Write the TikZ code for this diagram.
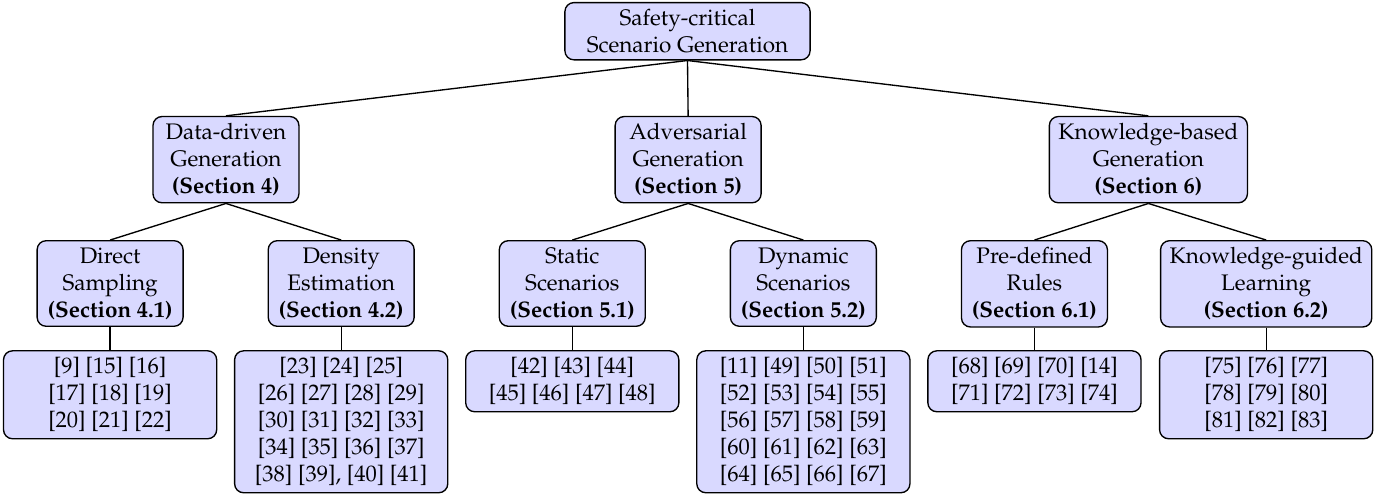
\documentclass[tikz,border=0pt]{standalone}
\usepackage[T1]{fontenc}
\usepackage{mathpazo}
\usepackage{tikz}

\tikzset{
    box/.style={draw, semithick, rounded corners, fill=blue!15, align=center, inner xsep=4pt, inner ysep=3pt, anchor=north},
    topbox/.style={box, minimum width=3.83cm},
    secbox/.style={box, minimum width=2.28cm},
    refbox/.style={box, minimum width=3.33cm}
}

\begin{document}
\begin{tikzpicture}[semithick]
    \useasboundingbox (0,0) rectangle (21.73,-7.75);
    % root
    \node[topbox] (root) at (10.74,-0.03) {Safety-critical\\Scenario Generation};
    % sections
    \node[secbox] (ddg) at (3.53,-1.81) {Data-driven\\Generation\\\textbf{(Section 4)}};
    \node[secbox] (adv) at (10.75,-1.81) {Adversarial\\Generation\\\textbf{(Section 5)}};
    \node[secbox] (kbg) at (17.94,-1.81) {Knowledge-based\\Generation\\\textbf{(Section 6)}};
    % subsections
    \node[secbox] (ds) at (1.72,-3.75) {Direct\\Sampling\\\textbf{(Section 4.1)}};
    \node[secbox] (de) at (5.33,-3.75) {Density\\Estimation\\\textbf{(Section 4.2)}};
    \node[secbox] (ss) at (8.94,-3.75) {Static\\Scenarios\\\textbf{(Section 5.1)}};
    \node[secbox] (dyn) at (12.55,-3.75) {Dynamic\\Scenarios\\\textbf{(Section 5.2)}};
    \node[secbox] (pdr) at (16.16,-3.75) {Pre-defined\\Rules\\\textbf{(Section 6.1)}};
    \node[secbox] (kgl) at (19.78,-3.75) {Knowledge-guided\\Learning\\\textbf{(Section 6.2)}};
    % references
    \node[refbox] (dsref) at (1.72,-5.47) {[9] [15] [16]\\{}[17] [18] [19]\\{}[20] [21] [22]};
    \node[refbox] (deref) at (5.33,-5.47) {[23] [24] [25]\\{}[26] [27] [28] [29]\\{}[30] [31] [32] [33]\\{}[34] [35] [36] [37]\\{}[38] [39], [40] [41]};
    \node[refbox] (ssref) at (8.94,-5.47) {[42] [43] [44]\\{}[45] [46] [47] [48]};
    \node[refbox] (dynref) at (12.55,-5.47) {[11] [49] [50] [51]\\{}[52] [53] [54] [55]\\{}[56] [57] [58] [59]\\{}[60] [61] [62] [63]\\{}[64] [65] [66] [67]};
    \node[refbox] (pdrref) at (16.16,-5.47) {[68] [69] [70] [14]\\{}[71] [72] [73] [74]};
    \node[refbox] (kglref) at (19.78,-5.47) {[75] [76] [77]\\{}[78] [79] [80]\\{}[81] [82] [83]};
    \draw (root.south) -- (ddg.north);
    \draw (root.south) -- (adv.north);
    \draw (root.south) -- (kbg.north);
    \draw (ddg.south) -- (ds.north);
    \draw (ddg.south) -- (de.north);
    \draw (adv.south) -- (ss.north);
    \draw (adv.south) -- (dyn.north);
    \draw (kbg.south) -- (pdr.north);
    \draw (kbg.south) -- (kgl.north);
    \draw (ds) -- (dsref);
    \draw (de) -- (deref);
    \draw (ss) -- (ssref);
    \draw (dyn) -- (dynref);
    \draw (pdr) -- (pdrref);
    \draw (kgl) -- (kglref);
\end{tikzpicture}
\end{document}
